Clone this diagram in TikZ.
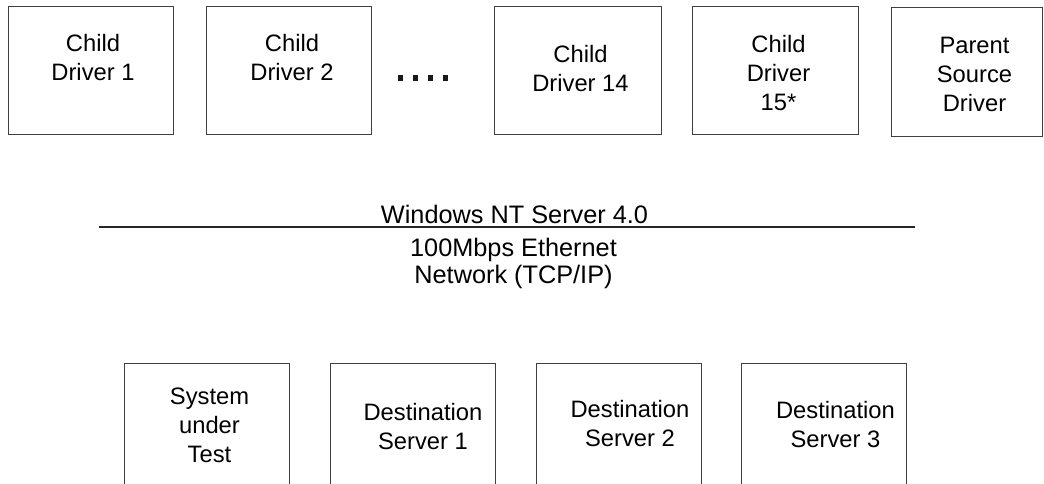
\documentclass[tikz,border=0pt]{standalone}
\usepackage{fontspec}
\setmainfont{Liberation Sans}
\usetikzlibrary{positioning}

\tikzset{
	drvbox/.style={draw=black!75, line width=1pt, minimum width=165pt, minimum height=128pt, inner sep=0pt, outer sep=0pt},
	srvbox/.style={drvbox, minimum height=140pt},
	boxtext/.style={align=center, inner sep=0pt, font=\fontsize{23.75pt}{29pt}\selectfont},
	nettext/.style={anchor=base, inner sep=0pt, font=\fontsize{25.3pt}{27pt}\selectfont},
	netline/.style={draw=black!85, line width=2.2pt},
}

\begin{document}
\begin{tikzpicture}[x=1pt, y=-1pt]
	\useasboundingbox (0,0) rectangle (1044,483);
	\clip (0,0) rectangle (1044,483);
	
	\node[drvbox] (cd1) at (90.5,70) {};
	\node[drvbox, right=33pt of cd1] (cd2) {};
	\node[drvbox, right=123pt of cd2, minimum width=167pt] (cd14) {};
	\node[drvbox, right=31pt of cd14, minimum width=166pt] (cd15) {};
	\node[drvbox, right=33pt of cd15, minimum width=151.5pt, minimum height=129pt, yshift=-1.5pt] (psd) {};
	
	\node[boxtext] (cd1t) at (93,58) {Child\\Driver 1};
	\node[boxtext] (cd2t) at (292,58) {Child\\Driver 2};
	\node[boxtext] (cd14t) at (580.5,69) {Child\\Driver 14};
	\node[boxtext] (cd15t) at (778.5,73) {Child\\Driver\\15*};
	\node[boxtext] (psdt) at (974.5,74) {Parent\\Source\\Driver};
	
	\foreach \x in {400.5,415.5,430.5,445.5}
		\fill[black!90] (\x-2.75,75.25) rectangle (\x+2.75,80.75);
	
	\coordinate (netl) at (99,227);
	\coordinate (netr) at (915,227);
	\draw[netline] (netl) -- (netr);
	\node[nettext] (os) at (514.5,223) {Windows NT Server 4.0};
	\node[nettext] (eth) at (513.5,256) {100Mbps Ethernet};
	\node[nettext] (tcp) at (513.5,283) {Network (TCP/IP)};
	
	\node[srvbox] (sut) at (207,433) {};
	\node[srvbox, right=41pt of sut] (ds1) {};
	\node[srvbox, right=41pt of ds1] (ds2) {};
	\node[srvbox, right=40pt of ds2] (ds3) {};
	
	\node[boxtext] (sutt) at (209.5,425) {System\\under\\Test};
	\node[boxtext] (ds1t) at (423,426.5) {Destination\\Server 1};
	\node[boxtext] (ds2t) at (630,424) {Destination\\Server 2};
	\node[boxtext] (ds3t) at (835.5,425) {Destination\\Server 3};
\end{tikzpicture}
\end{document}
